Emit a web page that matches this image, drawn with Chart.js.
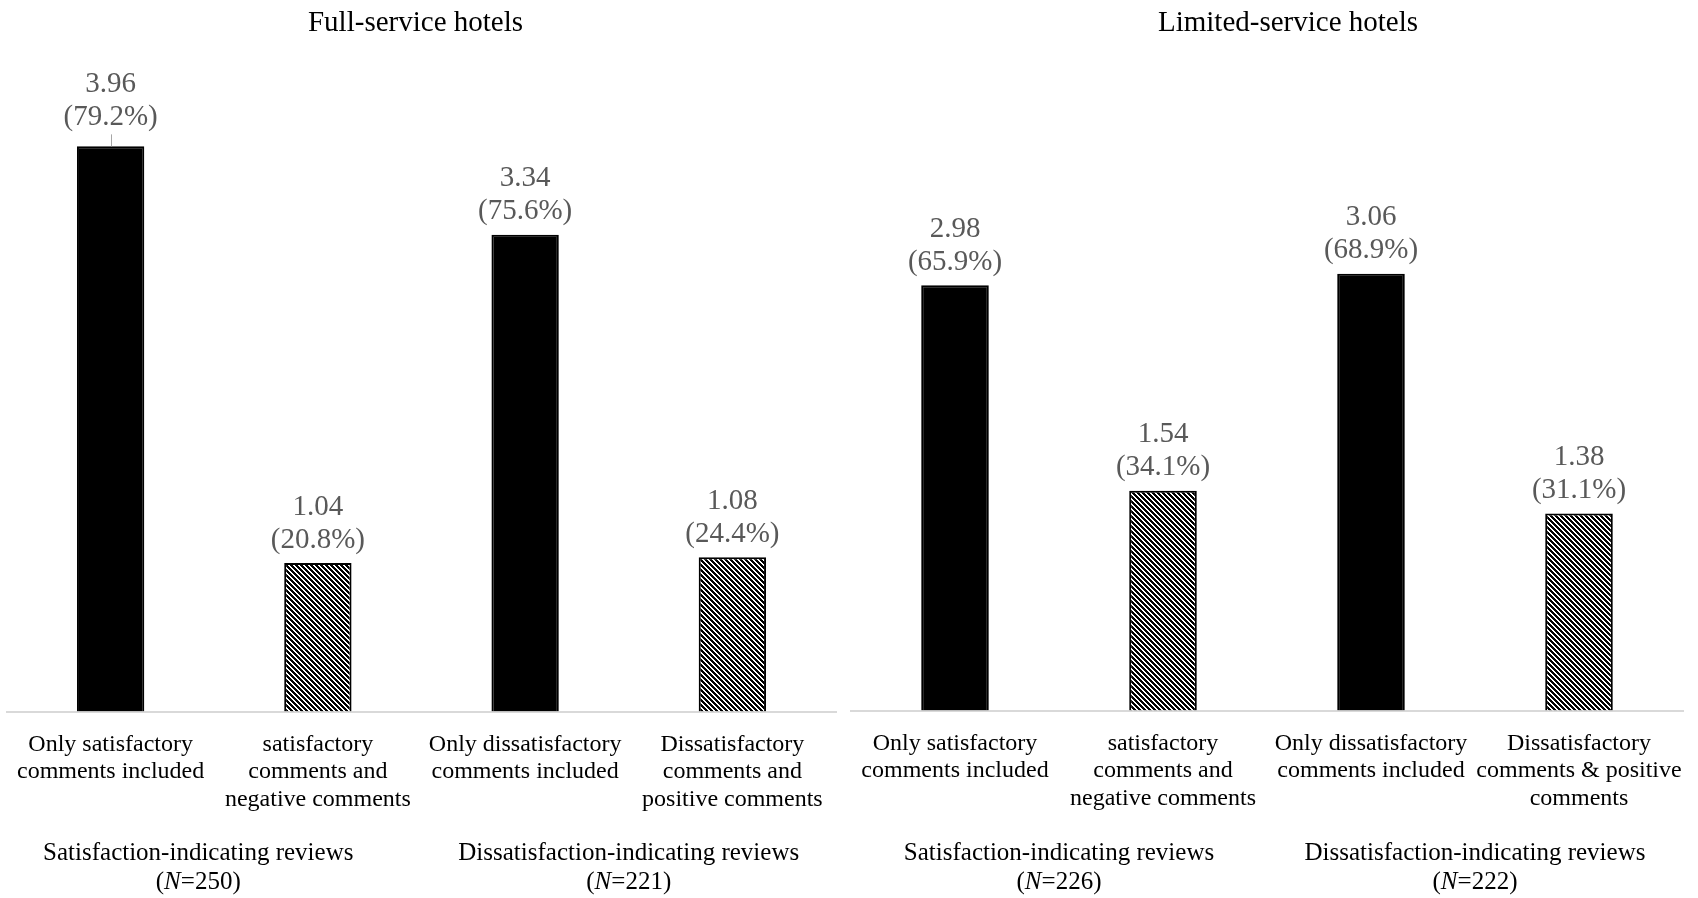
<!DOCTYPE html>
<html>
<head>
<meta charset="utf-8">
<title>Review comments by hotel type</title>
<script src="https://cdn.jsdelivr.net/npm/chart.js@4.4.1/dist/chart.umd.min.js"></script>
<style>
  html, body { margin: 0; padding: 0; background: #ffffff; overflow: hidden; }
  #wrap { position: relative; width: 1698px; height: 898px; }
  #wrap canvas { position: absolute; top: 0; }
</style>
</head>
<body>
<div id="wrap">
  <canvas id="fullChart" width="849" height="898" style="left:0;width:849px;height:898px"></canvas>
  <canvas id="limitedChart" width="849" height="898" style="left:849px;width:849px;height:898px"></canvas>
</div>
<script>
// ---- data ----
const fullTitle = 'Full-service hotels';
const limitedTitle = 'Limited-service hotels';

const fullCategories = [
  ['Only satisfactory', 'comments included'],
  ['satisfactory', 'comments and', 'negative comments'],
  ['Only dissatisfactory', 'comments included'],
  ['Dissatisfactory', 'comments and', 'positive comments']
];
const limitedCategories = [
  ['Only satisfactory', 'comments included'],
  ['satisfactory', 'comments and', 'negative comments'],
  ['Only dissatisfactory', 'comments included'],
  ['Dissatisfactory', 'comments & positive', 'comments']
];

const fullValues = [3.96, 1.04, 3.34, 1.08];
const fullShares = [79.2, 20.8, 75.6, 24.4];
const limitedValues = [2.98, 1.54, 3.06, 1.38];
const limitedShares = [65.9, 34.1, 68.9, 31.1];

const groupNames = ['Satisfaction-indicating reviews', 'Dissatisfaction-indicating reviews'];
const fullGroupN = [250, 221];
const limitedGroupN = [226, 222];

// ---- styling ----
const SERIF = '"Liberation Serif", "Times New Roman", Times, serif';
const VALUE_GREY = '#595959';
const AXIS_GREY = '#d9d9d9';

// black/white downward diagonal hatch used for the mixed-comment bars
function makeHatch() {
  const n = 5;
  const tile = document.createElement('canvas');
  tile.width = n; tile.height = n;
  const g = tile.getContext('2d');
  const img = g.createImageData(n, n);
  for (let y = 0; y < n; y++) {
    for (let x = 0; x < n; x++) {
      const on = ((x - y + 2 * n) % n) < 3;
      const i = (y * n + x) * 4;
      const v = on ? 0 : 255;
      img.data[i] = img.data[i + 1] = img.data[i + 2] = v;
      img.data[i + 3] = 255;
    }
  }
  g.putImageData(img, 0, 0);
  return g.createPattern(tile, 'repeat');
}
const hatch = makeHatch();
const barFills = [ '#000000', hatch, '#000000', hatch ];

// value + share labels above each bar
const barLabelPlugin = {
  id: 'barLabels',
  afterDatasetsDraw(chart, args, opts) {
    const ctx = chart.ctx;
    const meta = chart.getDatasetMeta(0);
    ctx.save();
    ctx.font = '29px ' + SERIF;
    ctx.fillStyle = VALUE_GREY;
    ctx.textAlign = 'center';
    ctx.textBaseline = 'middle';
    meta.data.forEach((bar, i) => {
      const lift = (opts.leader === i) ? opts.leaderLift : 0;
      const top = bar.y;
      ctx.fillText(opts.values[i].toFixed(2), bar.x, top - 56 - lift);
      ctx.fillText('(' + opts.shares[i].toFixed(1) + '%)', bar.x, top - 23 - lift);
      if (opts.leader === i) {
        ctx.save();
        ctx.strokeStyle = '#a6a6a6';
        ctx.lineWidth = 1;
        ctx.beginPath();
        ctx.moveTo(Math.round(bar.x) + 0.5, top - 12);
        ctx.lineTo(Math.round(bar.x) + 0.5, top);
        ctx.stroke();
        ctx.restore();
      }
    });
    ctx.restore();
  }
};

// panel title and the review-group captions under each pair of categories
const panelTextPlugin = {
  id: 'panelText',
  afterDraw(chart, args, opts) {
    const ctx = chart.ctx;
    const area = chart.chartArea;
    const xs = chart.scales.x;
    ctx.save();
    ctx.fillStyle = '#000000';
    ctx.textBaseline = 'middle';

    ctx.font = '29px ' + SERIF;
    ctx.textAlign = 'center';
    ctx.fillText(opts.title, (area.left + area.right) / 2 + opts.titleShift, 23);

    opts.groups.forEach((name, k) => {
      const cx = (xs.getPixelForValue(2 * k) + xs.getPixelForValue(2 * k + 1)) / 2 + opts.groupShift[k];
      ctx.font = '25px ' + SERIF;
      ctx.textAlign = 'center';
      ctx.fillText(name, cx, 853);

      // "(N=250)" with an italic N
      const normal = '25px ' + SERIF;
      const italic = 'italic 25px ' + SERIF;
      const parts = [['(', normal], ['N', italic], ['=' + opts.counts[k] + ')', normal]];
      let total = 0;
      parts.forEach(p => { ctx.font = p[1]; total += ctx.measureText(p[0]).width; });
      let x = cx - total / 2;
      ctx.textAlign = 'left';
      parts.forEach(p => {
        ctx.font = p[1];
        ctx.fillText(p[0], x, 882);
        x += ctx.measureText(p[0]).width;
      });
    });
    ctx.restore();
  }
};

function buildChart(canvasId, cfg) {
  return new Chart(document.getElementById(canvasId), {
    type: 'bar',
    data: {
      labels: cfg.categories,
      datasets: [{
        data: cfg.values,
        backgroundColor: barFills,
        borderColor: '#000000',
        borderWidth: 2,
        borderSkipped: 'bottom',
        categoryPercentage: 1.0,
        barPercentage: 0.325
      }]
    },
    options: {
      responsive: false,
      animation: false,
      devicePixelRatio: 1,
      layout: { padding: cfg.padding },
      plugins: {
        legend: { display: false },
        title: { display: false },
        tooltip: { enabled: false },
        barLabels: { values: cfg.values, shares: cfg.shares, leader: cfg.leader, leaderLift: 6 },
        panelText: { title: cfg.title, titleShift: cfg.titleShift, groups: groupNames, counts: cfg.counts, groupShift: cfg.groupShift }
      },
      scales: {
        x: {
          type: 'category',
          offset: true,
          z: 1,
          grid: { display: false, drawTicks: false },
          border: { display: true, color: AXIS_GREY, width: 2 },
          ticks: {
            color: '#000000',
            font: { family: SERIF, size: 24, lineHeight: 1.15 },
            padding: 19,
            maxRotation: 0,
            minRotation: 0,
            autoSkip: false
          },
          afterFit(scale) {
            scale.height = cfg.axisHeight;
            scale.paddingLeft = 0;
            scale.paddingRight = 0;
          }
        },
        y: {
          display: false,
          min: 0,
          max: 4.5
        }
      }
    },
    plugins: [barLabelPlugin, panelTextPlugin]
  });
}

buildChart('fullChart', {
  title: fullTitle,
  titleShift: -6,
  categories: fullCategories,
  values: fullValues,
  shares: fullShares,
  counts: fullGroupN,
  groupShift: [-16, 0],
  leader: 0,
  axisHeight: 186.5,
  padding: { left: 7, right: 13, top: 69.3, bottom: 0 }
});

buildChart('limitedChart', {
  title: limitedTitle,
  titleShift: 21,
  categories: limitedCategories,
  values: limitedValues,
  shares: limitedShares,
  counts: limitedGroupN,
  groupShift: [0, 0],
  leader: -1,
  axisHeight: 187.5,
  padding: { left: 2, right: 15, top: 68.3, bottom: 0 }
});
</script>
</body>
</html>
